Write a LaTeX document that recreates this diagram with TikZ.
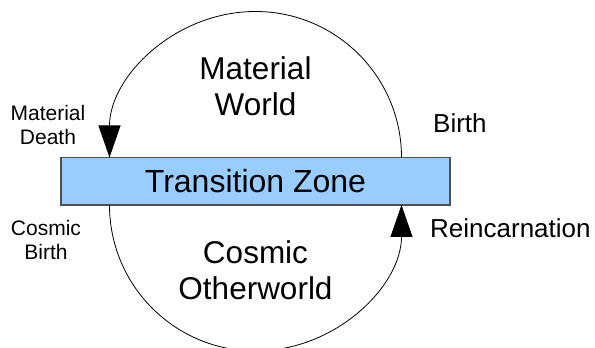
\documentclass[tikz,border=0pt]{standalone}
\usepackage{fontspec}
\setmainfont{Liberation Sans}
\usepackage{tikz}
\usetikzlibrary{arrows.meta, positioning}
\definecolor{zoneblue}{HTML}{99CCFF}
\definecolor{zoneedge}{HTML}{505050}

\begin{document}
\begin{tikzpicture}[x=1pt, y=1pt,
  bigtext/.style={font=\fontsize{31.5}{36}\selectfont, align=center, inner sep=0pt},
  sidetext/.style={font=\fontsize{21}{24}\selectfont, align=center, inner sep=0pt},
  steplabel/.style={font=\fontsize{26}{30}\selectfont, inner sep=0pt, anchor=base west},
  cycle/.style={line width=0.8pt, -{Triangle[length=32pt, width=22pt]}}]
\useasboundingbox (0,0) rectangle (595,348);
\node[draw=zoneedge, line width=1.4pt, fill=zoneblue, minimum width=389pt, minimum height=47.5pt, inner sep=0pt, font=\fontsize{32}{36}\selectfont] (zone) at (255.5,166.75) {Transition Zone};
\coordinate (birth) at (401.5,190.5);
\coordinate (death) at (109.5,143);
\node[bigtext] (material) at (255.5,261.5) {Material\\World};
\node[bigtext] (cosmic) at (255.5,77.3) {Cosmic\\Otherworld};
\node[sidetext] (mdeath) at (48,223.5) {Material\\Death};
\node[sidetext] (cbirth) at (46,107.7) {Cosmic\\Birth};
\node[steplabel] (birthlabel) at (433,215) {Birth};
\node[steplabel] (reinc) at (430,110) {Reincarnation};
\draw[cycle] (birth) arc[start angle=0, end angle=180, radius=146pt];
\draw[cycle] (death) arc[start angle=180, end angle=360, radius=146pt];
\end{tikzpicture}
\end{document}
